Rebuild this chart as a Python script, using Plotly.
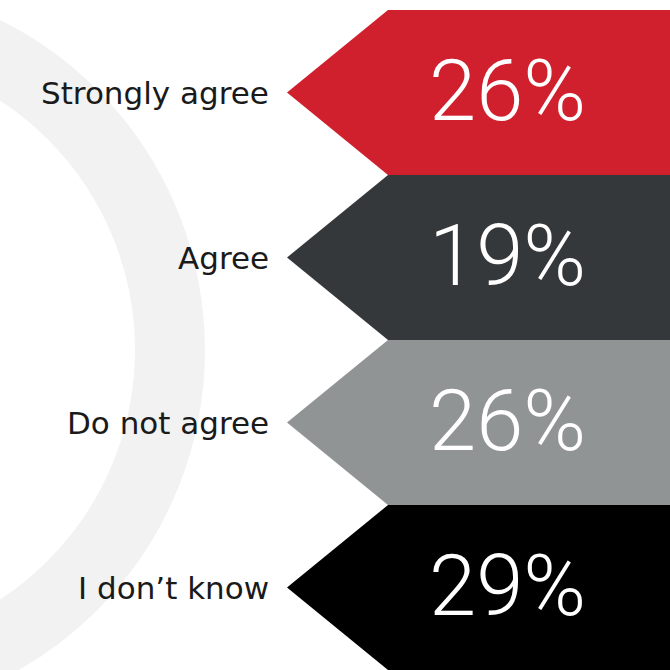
import plotly.graph_objects as go

categories = ["Strongly agree", "Agree", "Do not agree", "I don\u2019t know"]
values = [26, 19, 26, 29]
band_colors = ["#d0202d", "#35383b", "#919495", "#000000"]

W = 670
# x axis in pixel-like units, y axis in band (category) units
x_tip = 287
x_shoulder = 388
x_right = W
label_x = 271
value_x = 507

fig = go.Figure()

for i, (cat, val, col) in enumerate(zip(categories, values, band_colors)):
    top, bot = i - 0.5, i + 0.5
    xs = [x_shoulder, x_right, x_right, x_shoulder, x_tip, x_shoulder]
    ys = [top, top, bot, bot, i, top]
    fig.add_trace(go.Scatter(
        x=xs, y=ys, mode="lines", fill="toself", fillcolor=col,
        line=dict(width=0, color=col), hoverinfo="skip", showlegend=False,
    ))
    fig.add_annotation(
        x=label_x, y=i, text=cat, showarrow=False, xanchor="right", yanchor="middle",
        font=dict(family="DejaVu Sans", size=31, color="#1a1a1a"),
    )
    fig.add_annotation(
        x=value_x, y=i, text=f"{val}%", showarrow=False, xanchor="center", yanchor="middle",
        yshift=2,
        font=dict(family="Roboto", size=85, color="#ffffff", weight=300),
    )

# y range: band 0 top (-0.5) sits at pixel 10, band height 165 px
px_per_band = 165
y_top = -0.5 - 10 / px_per_band
y_bot = 3.5

# decorative ring on the left
cx, cy_px, r = -163, 350, 333
cy = (cy_px - 10) / px_per_band - 0.5
ry = r / px_per_band
fig.add_shape(
    type="circle", xref="x", yref="y",
    x0=cx - r, x1=cx + r, y0=cy - ry, y1=cy + ry,
    line=dict(color="#f2f2f2", width=70), fillcolor="rgba(0,0,0,0)", layer="below",
)

fig.update_layout(
    width=W, height=W, margin=dict(l=0, r=0, t=0, b=0),
    paper_bgcolor="#ffffff", plot_bgcolor="#ffffff",
    xaxis=dict(range=[0, W], visible=False, fixedrange=True),
    yaxis=dict(range=[y_bot, y_top], visible=False, fixedrange=True),
    showlegend=False,
)

fig.write_html(
    "out.html",
    config={"displayModeBar": False},
    post_script="document.body.style.margin='0';document.body.style.overflow='hidden';",
)
